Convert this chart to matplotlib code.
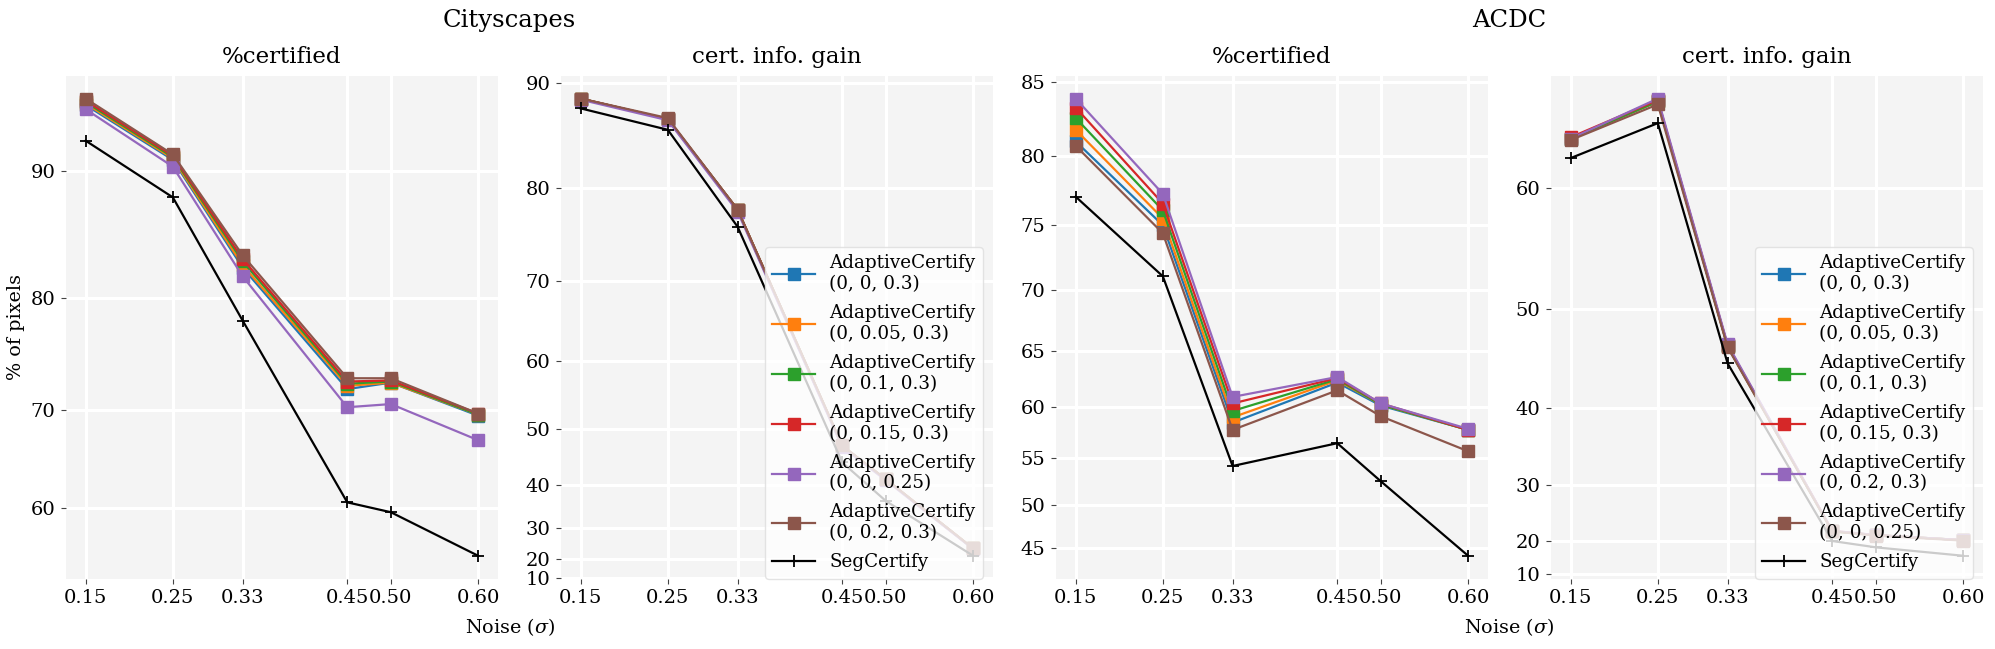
import numpy as np
import matplotlib
matplotlib.use("Agg")
import matplotlib.pyplot as plt
from matplotlib.ticker import MultipleLocator, FixedLocator, FixedFormatter

plt.rcParams['font.family'] = ['DejaVu Serif']
plt.rcParams['mathtext.fontset'] = 'dejavuserif'

# ---------------- data ----------------
noise = [0.15, 0.25, 0.33, 0.45, 0.50, 0.60]
xtick_labels = ["0.15", "0.25", "0.33", "0.45", "0.50", "0.60"]

colors = ["#1f77b4", "#ff7f0e", "#2ca02c", "#d62728", "#9467bd", "#8c564b"]

city_labels = ["AdaptiveCertify\n(0, 0, 0.3)", "AdaptiveCertify\n(0, 0.05, 0.3)",
               "AdaptiveCertify\n(0, 0.1, 0.3)", "AdaptiveCertify\n(0, 0.15, 0.3)",
               "AdaptiveCertify\n(0, 0, 0.25)", "AdaptiveCertify\n(0, 0.2, 0.3)"]
acdc_labels = ["AdaptiveCertify\n(0, 0, 0.3)", "AdaptiveCertify\n(0, 0.05, 0.3)",
               "AdaptiveCertify\n(0, 0.1, 0.3)", "AdaptiveCertify\n(0, 0.15, 0.3)",
               "AdaptiveCertify\n(0, 0.2, 0.3)", "AdaptiveCertify\n(0, 0, 0.25)"]

# Cityscapes %certified
city_cert_blue   = [94.75, 90.8, 82.5, 72.0, 72.6, 69.5]
city_cert_orange = [94.85, 90.9, 82.7, 72.3, 72.6, 69.6]
city_cert_green  = [94.95, 91.0, 83.0, 72.5, 72.7, 69.6]
city_cert_red    = [95.05, 91.1, 83.2, 72.7, 72.8, 69.7]
city_cert_purple = [94.45, 90.3, 81.8, 70.3, 70.6, 67.1]
city_cert_brown  = [95.2, 91.2, 83.5, 73.0, 73.0, 69.7]
city_cert_seg    = [92.2, 88.0, 78.1, 60.6, 59.5, 54.4]

# Cityscapes cert. info. gain
city_gain_blue   = [88.6, 86.7, 77.8, 47.2, 41.1, 23.9]
city_gain_orange = [88.6, 86.7, 77.8, 47.2, 41.1, 23.9]
city_gain_green  = [88.6, 86.7, 77.8, 47.2, 41.1, 23.9]
city_gain_red    = [88.6, 86.7, 77.8, 47.2, 41.1, 23.9]
city_gain_purple = [88.5, 86.6, 77.6, 47.0, 40.9, 23.7]
city_gain_brown  = [88.6, 86.8, 77.8, 47.3, 41.1, 23.9]
city_gain_seg    = [87.7, 85.7, 76.0, 44.3, 36.6, 21.3]

# ACDC %certified
acdc_cert_blue   = [81.0, 75.0, 58.5, 62.2, 60.1, 57.8]
acdc_cert_orange = [81.8, 75.5, 59.0, 62.4, 60.2, 57.8]
acdc_cert_green  = [82.6, 76.1, 59.6, 62.5, 60.2, 57.8]
acdc_cert_red    = [83.3, 76.6, 60.3, 62.6, 60.3, 57.8]
acdc_cert_purple = [83.9, 77.3, 60.9, 62.7, 60.3, 57.9]
acdc_cert_brown  = [80.7, 74.4, 57.8, 61.5, 59.1, 55.7]
acdc_cert_seg    = [77.1, 71.1, 54.2, 56.5, 52.6, 44.0]

# ACDC cert. info. gain
acdc_gain_blue   = [63.6, 66.2, 46.5, 22.0, 21.2, 20.1]
acdc_gain_orange = [63.6, 66.2, 46.5, 22.0, 21.2, 20.1]
acdc_gain_green  = [63.6, 66.2, 46.5, 22.0, 21.2, 20.1]
acdc_gain_red    = [63.7, 66.3, 46.6, 22.1, 21.2, 20.1]
acdc_gain_purple = [63.6, 66.4, 46.7, 22.1, 21.2, 20.1]
acdc_gain_brown  = [63.5, 66.0, 46.4, 22.0, 21.1, 20.0]
acdc_gain_seg    = [62.2, 64.7, 44.8, 19.9, 18.4, 16.2]

panels = [
    ([city_cert_blue, city_cert_orange, city_cert_green, city_cert_red, city_cert_purple, city_cert_brown],
     city_cert_seg, city_labels, "%certified", 10, False),
    ([city_gain_blue, city_gain_orange, city_gain_green, city_gain_red, city_gain_purple, city_gain_brown],
     city_gain_seg, city_labels, "cert. info. gain", 10, True),
    ([acdc_cert_blue, acdc_cert_orange, acdc_cert_green, acdc_cert_red, acdc_cert_purple, acdc_cert_brown],
     acdc_cert_seg, acdc_labels, "%certified", 5, False),
    ([acdc_gain_blue, acdc_gain_orange, acdc_gain_green, acdc_gain_red, acdc_gain_purple, acdc_gain_brown],
     acdc_gain_seg, acdc_labels, "cert. info. gain", 10, True),
]

# ---------------- figure ----------------
W, H = 1995, 649
fig = plt.figure(figsize=(W / 100, H / 100), dpi=100)

lefts = [66, 561, 1056, 1551]
ax_w = 431.7
ax_top, ax_bot = 75.7, 578.6

def fwd(v):
    v = np.asarray(v, dtype=float)
    return np.sign(v) * v ** 2

def inv(v):
    v = np.asarray(v, dtype=float)
    return np.sign(v) * np.sqrt(np.abs(v))

for i, (series, seg, labels, title, step, show_legend) in enumerate(panels):
    ax = fig.add_axes([lefts[i] / W, 1 - ax_bot / H, ax_w / W, (ax_bot - ax_top) / H])
    ax.set_facecolor("#f4f4f4")
    for s in ax.spines.values():
        s.set_visible(False)
    ax.grid(True, color="white", linewidth=2.2)
    ax.set_axisbelow(True)
    ax.set_yscale("function", functions=(fwd, inv))
    for vals, c, lab in zip(series, colors, labels):
        ax.plot(noise, vals, color=c, marker="s", markersize=8, linewidth=1.6,
                markeredgewidth=1.0, label=lab)
    ax.plot(noise, seg, color="black", marker="+", markersize=8, linewidth=1.6,
            markeredgewidth=1.3, label="SegCertify")
    ax.margins(x=0.05, y=0.05)
    ax.xaxis.set_major_locator(FixedLocator(noise))
    ax.xaxis.set_major_formatter(FixedFormatter(xtick_labels))
    ax.yaxis.set_major_locator(MultipleLocator(step))
    ax.yaxis.set_minor_locator(plt.NullLocator())
    ax.tick_params(axis="both", labelsize=14, length=3.5, width=0.8,
                   color="#444444", pad=4)
    ax.set_title(title, fontsize=16.5, pad=9)
    if i == 0:
        ax.set_ylabel("% of pixels", fontsize=13.8)
    if show_legend:
        ax.legend(loc="lower right", bbox_to_anchor=(0.977, 0.0), borderaxespad=0,
                  fontsize=13.2, framealpha=0.8, edgecolor="#dddddd",
                  handlelength=2.3, labelspacing=0.6, borderpad=0.4,
                  handletextpad=0.8)

fig.text(509.5 / W, 1 - 20.7 / H, "Cityscapes", ha="center", va="center", fontsize=17.5)
fig.text(1509 / W, 1 - 20.7 / H, "ACDC", ha="center", va="center", fontsize=17.5)
fig.text(509.5 / W, 1 - 627 / H, r"Noise ($\sigma$)", ha="center", va="center", fontsize=13.8)
fig.text(1509 / W, 1 - 627 / H, r"Noise ($\sigma$)", ha="center", va="center", fontsize=13.8)

fig.savefig("out.png", dpi=100)
